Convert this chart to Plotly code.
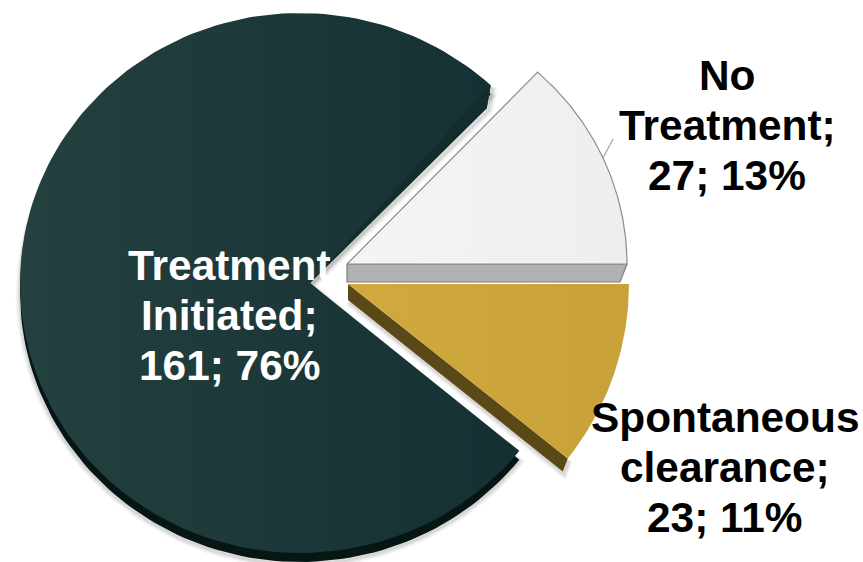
import numpy as np
import plotly.graph_objects as go

# slices in clockwise order, starting from the 3 o'clock position
labels = ['Spontaneous clearance', 'Treatment Initiated', 'No Treatment']
counts = [23, 161, 27]
percents = [11, 76, 13]

# the labels are wrapped by hand, line height is tighter than plotly's own
label_lines = [
    ['Spontaneous', 'clearance;', '23; 11%'],
    ['Treatment', 'Initiated;', '161; 76%'],
    ['No', 'Treatment;', '27; 13%'],
]
label_colors = ['black', 'white', 'black']
label_pos = [(725, 417), (229, 265), (727, 75)]
line_gap = 50

W, H = 863, 562
sweeps = np.array(counts) / sum(counts) * 360
starts = -np.concatenate([[0], np.cumsum(sweeps)[:-1]])
ends = starts - sweeps


def arc(cx, cy, rx, ry, a0, a1):
    t = np.radians(np.linspace(a0, a1, 160))
    return cx + rx * np.cos(t), cy - ry * np.sin(t)


def poly(fig, x, y, color=None, gradient=None, line=None, width=0):
    kw = {}
    if gradient:
        kw['fillgradient'] = dict(type='horizontal', colorscale=gradient)
    else:
        kw['fillcolor'] = color
    fig.add_trace(go.Scatter(x=x, y=y, mode='lines', fill='toself', hoverinfo='skip',
                             line=dict(color=line or 'rgba(0,0,0,0)', width=width), **kw))


def shadow(fig, x, y, dx, dy):
    # soft edge, stacked translucent outlines
    for w, a in [(9, 0.04), (6, 0.05), (3, 0.07)]:
        fig.add_trace(go.Scatter(x=x + dx, y=y + dy, mode='lines', hoverinfo='skip',
                                 line=dict(color='rgba(0,0,0,%s)' % a, width=w)))


fig = go.Figure()

# Treatment Initiated
ax, ay = arc(300, 283, 280, 270, starts[1] + 0.8, ends[1] + 1)
vx, vy = 310, 283
sil_x = np.concatenate([[vx], ax, [ax[-1] - 4], [vx]])
sil_y = np.concatenate([[vy], ay, [ay[-1] + 23], [vy]])
low_x = np.concatenate([[vx], ax, [vx]])
low_y = np.concatenate([[vy], ay + 9, [vy]])
shadow(fig, low_x, low_y, 0, 2)
shadow(fig, sil_x[-3:], sil_y[-3:], 2, 2)
poly(fig, low_x, low_y, color='#051614')
poly(fig, sil_x, sil_y, gradient=[[0, '#24403f'], [0.5, '#1c3838'], [1, '#143032']])
poly(fig, [ax[-1], ax[-1] - 4, vx, ax[-1]], [ay[-1], ay[-1] + 23, vy, ay[-1]], color='#122d2e')

# No Treatment
cx, cy = 347, 264
nx, ny = arc(cx, cy, 280, 262, starts[2] + 1, ends[2])
fig.add_trace(go.Scatter(x=[602, 613], y=[160, 139], mode='lines', hoverinfo='skip',
                         line=dict(color='#a6a6a6', width=1.3)))
poly(fig, [cx, cx + 280, cx + 273, cx, cx], [cy, cy, cy + 18, cy + 18, cy],
     color='#b2b2b2', line='#7f7f7f', width=1.2)
poly(fig, np.concatenate([[cx], nx, [cx]]), np.concatenate([[cy], ny, [cy]]),
     gradient=[[0, '#f4f4f4'], [1, '#eeeeee']], line='#8c8c8c', width=1.2)

# Spontaneous clearance
gx0, gy0 = 348, 284
gx, gy = arc(gx0, gy0, 281, 280, starts[0], ends[0] + 0.7)
wall_x = [gx0, gx[-1], gx[-1] - 5, gx0, gx0]
wall_y = [gy0, gy[-1], gy[-1] + 13, gy0 + 16, gy0]
shadow(fig, np.array(wall_x[1:4]), np.array(wall_y[1:4]), 1, 2)
poly(fig, wall_x, wall_y, color='#5a4817')
poly(fig, np.concatenate([[gx0], gx, [gx0]]), np.concatenate([[gy0], gy, [gy0]]),
     gradient=[[0, '#d0aa3e'], [1, '#c8a239']])

for lines, color, (lx, ly) in zip(label_lines, label_colors, label_pos):
    for i, text in enumerate(lines):
        fig.add_annotation(x=lx, y=ly + i * line_gap, text='<b>%s</b>' % text, showarrow=False,
                           xanchor='center', yanchor='middle',
                           font=dict(family='Liberation Sans', size=42.4, color=color))

fig.update_layout(width=W, height=H, margin=dict(l=0, r=0, t=0, b=0), showlegend=False,
                  paper_bgcolor='white', plot_bgcolor='white',
                  xaxis=dict(range=[0, W], visible=False, fixedrange=True),
                  yaxis=dict(range=[H, 0], visible=False, fixedrange=True))
# page margin would push the figure 8px off the window
fig.write_html("out.html", config=dict(displayModeBar=False),
               post_script="document.body.style.margin='0';document.body.style.overflow='hidden';")
